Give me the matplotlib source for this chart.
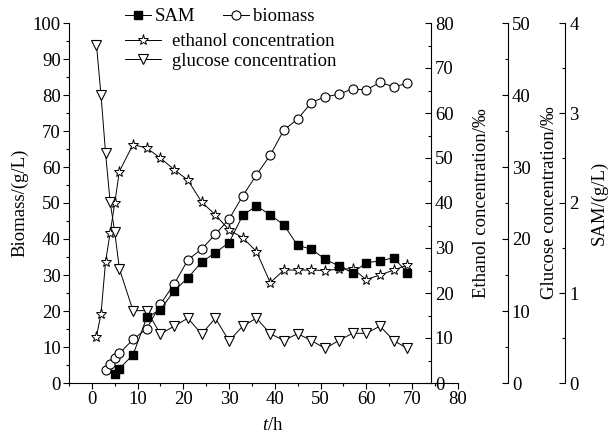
import matplotlib
matplotlib.use("Agg")
import matplotlib.pyplot as plt
from matplotlib.ticker import MultipleLocator

plt.rcParams['font.family'] = ['Liberation Serif', 'DejaVu Serif']
plt.rcParams['mathtext.fontset'] = 'custom'
plt.rcParams['mathtext.rm'] = 'Liberation Serif'
plt.rcParams['mathtext.it'] = 'Liberation Serif:italic'
plt.rcParams['font.size'] = 13.5

# ---- data ----
t_glu_eth = [1, 2, 3, 4, 5, 6, 9, 12, 15, 18, 21, 24, 27, 30, 33, 36, 39, 42, 45, 48, 51, 54, 57, 60, 63, 66, 69]
glucose = [47.0, 40.0, 31.9, 25.1, 21.0, 15.9, 10.05, 10.05, 6.8, 7.9, 9.0, 6.8, 9.0, 5.85, 7.9, 9.0,
           6.85, 5.9, 6.85, 5.9, 4.8, 5.9, 6.9, 6.9, 7.9, 5.9, 4.8]
ethanol = [10.3, 15.4, 27.0, 33.4, 39.9, 47.0, 53.0, 52.2, 50.0, 47.4, 45.1, 40.2, 37.4, 34.0, 32.3, 29.2,
           22.3, 25.1, 25.1, 25.1, 25.0, 25.3, 25.4, 23.0, 24.0, 25.1, 26.2]

t_biomass = [3, 4, 5, 6, 9, 12, 15, 18, 21, 24, 27, 30, 33, 36, 39, 42, 45, 48, 51, 54, 57, 60, 63, 66, 69]
biomass = [3.5, 5.3, 6.9, 8.2, 12.1, 15.1, 21.9, 27.5, 34.2, 37.2, 41.3, 45.5, 52.0, 57.8, 63.3, 70.3,
           73.3, 77.9, 79.5, 80.2, 81.7, 81.4, 83.5, 82.3, 83.2]

t_sam = [5, 6, 9, 12, 15, 18, 21, 24, 27, 30, 33, 36, 39, 42, 45, 48, 51, 54, 57, 60, 63, 66, 69]
sam = [0.104, 0.16, 0.312, 0.728, 0.816, 1.024, 1.168, 1.344, 1.448, 1.56, 1.864, 1.968, 1.868, 1.756,
       1.528, 1.488, 1.376, 1.30, 1.224, 1.336, 1.356, 1.392, 1.224]

W, H = 608, 437
fig = plt.figure(figsize=(W / 100, H / 100), dpi=100)
L, R, B, T = 69, 457.7, 383, 23
ax = fig.add_axes([L / W, 1 - B / H, (R - L) / W, (B - T) / H])
axw = R - L

lw = 0.7
ax.set_xlim(-5, 80)
ax.set_ylim(0, 100)
ax.spines['top'].set_visible(False)
ax.spines['right'].set_visible(False)
ax.xaxis.set_major_locator(MultipleLocator(10))
ax.xaxis.set_minor_locator(MultipleLocator(5))
ax.yaxis.set_major_locator(MultipleLocator(10))
ax.yaxis.set_minor_locator(MultipleLocator(5))
ax.tick_params(which='both', direction='out', width=0.8, pad=2)
ax.tick_params(which='major', length=4)
ax.tick_params(which='minor', length=2.5)
ax.set_xticks([0, 10, 20, 30, 40, 50, 60, 70, 80])
ax.set_xlabel('$t$/h')
ax.xaxis.label.set_va('center')
ax.xaxis.set_label_coords((273 - L) / axw, -(425 - B) / (B - T))
ax.set_ylabel('Biomass/(g/L)')
ax.yaxis.label.set_va('center')
ax.yaxis.set_label_coords((20 - L) / axw, 0.5)


def make_twin(pos_px, ylim, major, minor, label, label_px):
    a = ax.twinx()
    a.set_xlim(-5, 80)
    a.set_ylim(*ylim)
    for s in ['top', 'left', 'bottom']:
        a.spines[s].set_visible(False)
    a.spines['right'].set_position(('axes', (pos_px - L) / axw))
    a.yaxis.set_major_locator(MultipleLocator(major))
    a.yaxis.set_minor_locator(MultipleLocator(minor))
    a.tick_params(which='both', direction='in', width=0.8, pad=3)
    a.tick_params(which='major', length=4)
    a.tick_params(which='minor', length=2.5)
    a.set_ylabel(label)
    a.yaxis.label.set_va('center')
    a.yaxis.set_label_coords((label_px - L) / axw, 0.5)
    return a


ax_eth = make_twin(430.7, (0, 80), 10, 5, 'Ethanol concentration/‰', 481)
ax_glu = make_twin(507.7, (0, 50), 10, 5, 'Glucose concentration/‰', 550)
ax_sam = make_twin(565, (0, 4), 1, 0.5, 'SAM/(g/L)', 599)

l_glu, = ax_glu.plot(t_glu_eth, glucose, color='black', lw=lw, marker='v', ms=7,
                     mfc='white', mec='black', mew=0.8)
l_eth, = ax_eth.plot(t_glu_eth, ethanol, color='black', lw=lw, marker='*', ms=8,
                     mfc='white', mec='black', mew=0.7)
l_bio, = ax.plot(t_biomass, biomass, color='black', lw=lw, marker='o', ms=6.5,
                 mfc='white', mec='black', mew=0.8)
l_sam, = ax_sam.plot(t_sam, sam, color='black', lw=lw, marker='s', ms=6,
                     mfc='black', mec='black')

leg1 = fig.legend([l_sam, l_bio], ['SAM', 'biomass'], ncol=2, frameon=False,
                  loc='upper left', bbox_to_anchor=(112 / W, 1 + 5 / H),
                  handlelength=1.4, handletextpad=0.2, columnspacing=1.45, borderpad=0.2)
leg2 = fig.legend([l_eth, l_glu], ['ethanol concentration', 'glucose concentration'], frameon=False,
                  loc='upper left', bbox_to_anchor=(112 / W, 1 - 20 / H),
                  handlelength=1.9, handletextpad=0.6, labelspacing=0.13, borderpad=0.2)

fig.savefig('out.png', dpi=100)
